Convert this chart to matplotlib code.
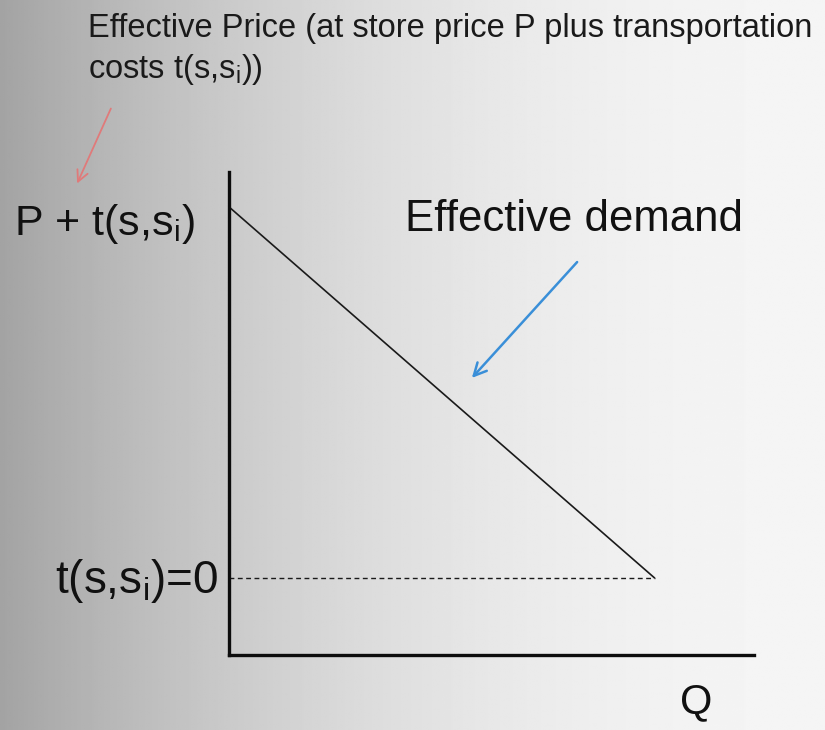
import numpy as np
import matplotlib
matplotlib.use('Agg')
import matplotlib.pyplot as plt

plt.rcParams['font.family'] = ['Liberation Sans', 'DejaVu Sans']
plt.rcParams['mathtext.default'] = 'regular'

# effective demand: price at the store plus travel cost, against quantity
quantity = [0.0, 1.0]
effective_price = [1.0, 0.0]
zero_cost_level = 0.0

price_label = r'P + t(s,s$_{i}$)'
zero_label = r't(s,s$_{i}$)=0'
demand_label = 'Effective demand'
title_text = 'Effective Price (at store price P plus transportation\ncosts t(s,s$_{i}$))'
x_label = 'Q'

fig = plt.figure(figsize=(8.25, 7.3), dpi=100)

# grey-to-white backdrop
bg = fig.add_axes([0, 0, 1, 1], zorder=-10)
xx = np.linspace(0, 1, 400)
shade = 0.64 + 0.32 * (1 - (1 - xx) ** 2)
bg.imshow(np.tile(shade, (50, 1)), cmap='gray', vmin=0, vmax=1,
          aspect='auto', extent=[0, 1, 0, 1])
bg.set_axis_off()

ax = fig.add_axes([229 / 825, 75 / 730, 525 / 825, 483 / 730])
ax.patch.set_alpha(0)
ax.set_xlim(0, 1.233)
ax.set_ylim(-0.207, 1.094)

ax.plot(quantity, effective_price, color='#1a1a1a', lw=1.2, solid_capstyle='butt')
ax.plot([0, quantity[1]], [zero_cost_level, zero_cost_level], color='#1a1a1a',
        lw=1.0, ls=(0, (3.5, 2.5)))

for side in ['top', 'right']:
    ax.spines[side].set_visible(False)
for side in ['left', 'bottom']:
    ax.spines[side].set_linewidth(2.4)
    ax.spines[side].set_color('#0d0d0d')
ax.set_xticks([])
ax.set_yticks([])

ax.text(-0.080, 0.955, price_label, fontsize=31,
        ha='right', va='center', color='#111111', clip_on=False)
ax.text(-0.026, -0.008, zero_label, fontsize=33,
        ha='right', va='center', color='#111111', clip_on=False)
ax.text(0.413, 0.965, demand_label, fontsize=31.5, ha='left', va='center',
        color='#111111')
ax.text(1.097, -0.335, x_label, fontsize=30, ha='center', va='center',
        color='#111111', clip_on=False)

fig.text(88 / 825, 1 - 13 / 730, title_text, fontsize=23.5, ha='left', va='top',
         color='#1a1a1a', linespacing=1.3)

# pointer arrows
fig.add_artist(matplotlib.patches.FancyArrowPatch(
    (579 / 825, 1 - 260 / 730), (470 / 825, 1 - 380 / 730),
    transform=fig.transFigure, arrowstyle='->,head_length=9,head_width=4.5',
    color='#3a8fd8', lw=1.8, mutation_scale=1))
fig.add_artist(matplotlib.patches.FancyArrowPatch(
    (112 / 825, 1 - 106 / 730), (76 / 825, 1 - 186 / 730),
    transform=fig.transFigure, arrowstyle='->,head_length=8,head_width=4',
    color='#e07a7a', lw=1.3, mutation_scale=1))

fig.savefig('out.png', dpi=100)
